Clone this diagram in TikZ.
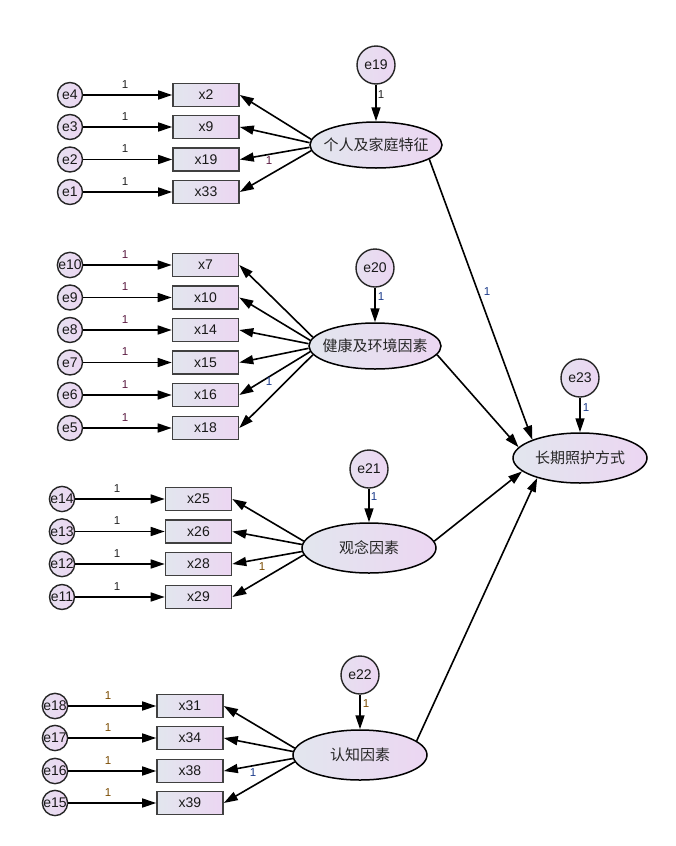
\documentclass[tikz,border=0pt]{standalone}
\usepackage{fontspec}
\setmainfont{Liberation Sans}
\newfontfamily\cjk{Noto Sans CJK SC}
\usetikzlibrary{shapes.geometric,arrows.meta}
\definecolor{gL}{HTML}{E2E6EE}
\definecolor{gR}{HTML}{ECD6F2}
\definecolor{lblA}{HTML}{222222}
\definecolor{lblB}{HTML}{5A1A40}
\definecolor{lblC}{HTML}{7A4A00}
\definecolor{lblD}{HTML}{1A3A8A}
\tikzset{
  obs/.style={draw=black!75, line width=1.6pt, minimum width=66pt, minimum height=23pt,
    inner sep=0pt, left color=gL, right color=gR, font=\fontsize{14}{15}\selectfont, text=black!90},
  err/.style={circle, draw=black!85, line width=1.4pt, minimum size=25pt, inner sep=0pt,
    left color=gL!60!gR, right color=gR, font=\fontsize{14}{15}\selectfont, text=black!90},
  errbig/.style={err, minimum size=38pt},
  lat/.style={ellipse, draw=black, line width=1.5pt, minimum width=132pt, minimum height=46pt,
    inner xsep=-16pt, inner ysep=0pt, left color=gL, right color=gR, font=\cjk\fontsize{15}{16}\selectfont, text=black!85},
  arr/.style={-{Triangle[length=14pt,width=9pt]}, line width=1.6pt},
  one/.style={font=\fontsize{11.5}{12}\selectfont, inner sep=0pt}
}
\begin{document}
\begin{tikzpicture}[x=1pt,y=-1pt]
\useasboundingbox (0,0) rectangle (676,846);
% ---------- block 1
\node[lat] (p1) at (376,145) {个人及家庭特征};
\node[errbig] (e19) at (376,65) {e19};
\node[obs] (b2) at (206,95) {x2};
\node[obs] (b9) at (206,127) {x9};
\node[obs] (b19) at (206,159.5) {x19};
\node[obs] (b33) at (206,192) {x33};
\node[err] (e4) at (70,95) {e4};
\node[err] (e3) at (70,127) {e3};
\node[err] (e2) at (70,159.5) {e2};
\node[err] (e1) at (70,192) {e1};
\draw[arr] (e19) -- (p1);
\draw[arr] (p1.175) -- (b2.east);
\draw[arr] (p1.178) -- (b9.east);
\draw[arr] (p1.182) -- (b19.east);
\draw[arr] (p1.185) -- (b33.east);
\foreach \e/\b in {e4/b2,e3/b9,e2/b19,e1/b33} \draw[arr] (\e) -- (\b);
\node[one,text=lblA] (l1) at (125,85) {1};
\node[one,text=lblA] (l2) at (125,117) {1};
\node[one,text=lblA] (l3) at (125,149) {1};
\node[one,text=lblA] (l4) at (125,182) {1};
\node[one,text=lblB] (l5) at (269,161) {1};
\node[one,text=lblA] (l6) at (381,95) {1};
% ---------- block 2
\node[lat] (p2) at (375,346) {健康及环境因素};
\node[errbig] (e20) at (375,268) {e20};
\node[obs] (b7) at (205.5,265) {x7};
\node[obs] (b10) at (205.5,297.5) {x10};
\node[obs] (b14) at (205.5,330) {x14};
\node[obs] (b15) at (205.5,362.5) {x15};
\node[obs] (b16) at (205.5,395) {x16};
\node[obs] (b18) at (205.5,428) {x18};
\node[err] (e10) at (70,265) {e10};
\node[err] (e9) at (70,297.5) {e9};
\node[err] (e8) at (70,330) {e8};
\node[err] (e7) at (70,362.5) {e7};
\node[err] (e6) at (70,395) {e6};
\node[err] (e5) at (70,428) {e5};
\draw[arr] (e20) -- (p2);
\draw[arr] (p2.172) -- (b7.east);
\draw[arr] (p2.175) -- (b10.east);
\draw[arr] (p2.178) -- (b14.east);
\draw[arr] (p2.182) -- (b15.east);
\draw[arr] (p2.185) -- (b16.east);
\draw[arr] (p2.188) -- (b18.east);
\foreach \e/\b in {e10/b7,e9/b10,e8/b14,e7/b15,e6/b16,e5/b18} \draw[arr] (\e) -- (\b);
\node[one,text=lblB] (m1) at (125,255) {1};
\node[one,text=lblB] (m2) at (125,287) {1};
\node[one,text=lblB] (m3) at (125,320) {1};
\node[one,text=lblB] (m4) at (125,352) {1};
\node[one,text=lblB] (m5) at (125,385) {1};
\node[one,text=lblB] (m6) at (125,418) {1};
\node[one,text=lblD] (m7) at (269,382) {1};
\node[one,text=lblD] (m8) at (381,297) {1};
% ---------- block 3
\node[lat, minimum width=134pt, minimum height=50pt] (p3) at (369,548) {观念因素};
\node[errbig] (e21) at (369,469) {e21};
\node[obs] (b25) at (198.5,499) {x25};
\node[obs] (b26) at (198.5,531.5) {x26};
\node[obs] (b28) at (198.5,564) {x28};
\node[obs] (b29) at (198.5,597) {x29};
\node[err] (e14) at (62,499) {e14};
\node[err] (e13) at (62,531.5) {e13};
\node[err] (e12) at (62,564) {e12};
\node[err] (e11) at (62,597) {e11};
\draw[arr] (e21) -- (p3);
\draw[arr] (p3.174) -- (b25.east);
\draw[arr] (p3.177) -- (b26.east);
\draw[arr] (p3.183) -- (b28.east);
\draw[arr] (p3.186) -- (b29.east);
\foreach \e/\b in {e14/b25,e13/b26,e12/b28,e11/b29} \draw[arr] (\e) -- (\b);
\node[one,text=lblA] (n1) at (117,489) {1};
\node[one,text=lblA] (n2) at (117,521) {1};
\node[one,text=lblA] (n3) at (117,554) {1};
\node[one,text=lblA] (n4) at (117,587) {1};
\node[one,text=lblC] (n5) at (262,567) {1};
\node[one,text=lblD] (n6) at (374,497) {1};
% ---------- block 4
\node[lat, minimum width=134pt, minimum height=50pt] (p4) at (360,755) {认知因素};
\node[errbig] (e22) at (360,675) {e22};
\node[obs] (b31) at (190,706) {x31};
\node[obs] (b34) at (190,738) {x34};
\node[obs] (b38) at (190,771) {x38};
\node[obs] (b39) at (190,803) {x39};
\node[err] (e18) at (55,706) {e18};
\node[err] (e17) at (55,738) {e17};
\node[err] (e16) at (55,771) {e16};
\node[err] (e15) at (55,803) {e15};
\draw[arr] (e22) -- (p4);
\draw[arr] (p4.174) -- (b31.east);
\draw[arr] (p4.177) -- (b34.east);
\draw[arr] (p4.183) -- (b38.east);
\draw[arr] (p4.186) -- (b39.east);
\foreach \e/\b in {e18/b31,e17/b34,e16/b38,e15/b39} \draw[arr] (\e) -- (\b);
\node[one,text=lblC] (q1) at (108,696) {1};
\node[one,text=lblC] (q2) at (108,728) {1};
\node[one,text=lblC] (q3) at (108,761) {1};
\node[one,text=lblC] (q4) at (108,793) {1};
\node[one,text=lblD] (q5) at (253,773) {1};
\node[one,text=lblC] (q6) at (366,704) {1};
% ---------- outcome
\node[lat, minimum width=134pt, minimum height=50pt] (y) at (580,458) {长期照护方式};
\node[errbig] (e23) at (580,378) {e23};
\draw[arr] (e23) -- (y);
\node[one,text=lblD] (r1) at (586,408) {1};
\draw[arr] (p1.-15) -- (y.159);
\draw[arr] (p2.-8) -- (y.170);
\draw[arr] (p3.6) -- (y.193);
\draw[arr] (p4.14) -- (y.205);
\node[one,text=lblD] (r2) at (487,292) {1};
\end{tikzpicture}
\end{document}
